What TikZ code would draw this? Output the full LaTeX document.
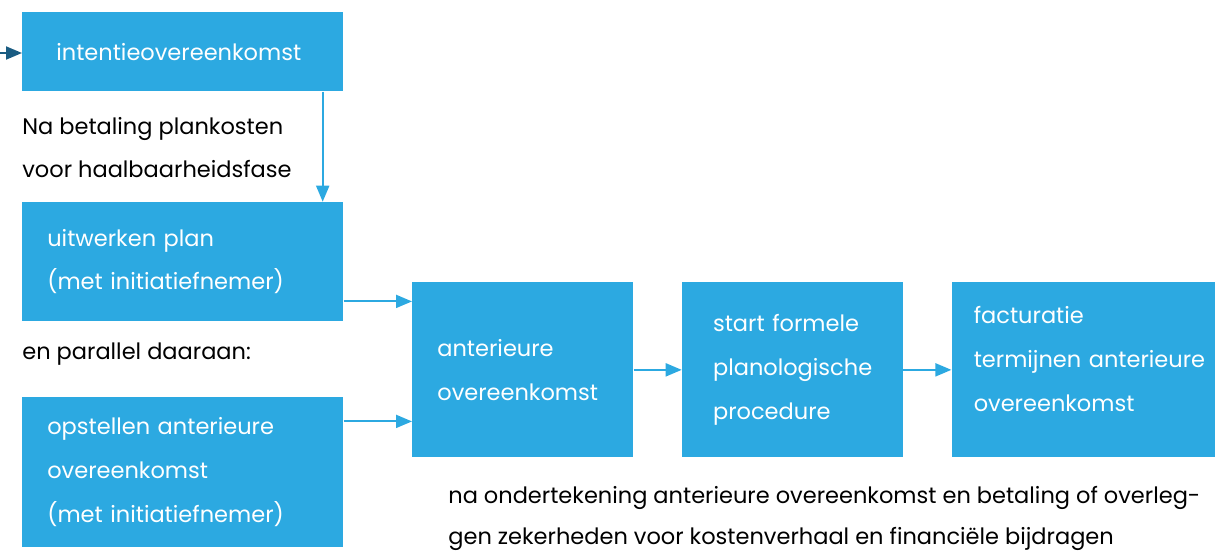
\documentclass[tikz,border=0pt]{standalone}
\usepackage{fontspec}
\setmainfont{Poppins}
\usepackage{xcolor}
\usetikzlibrary{arrows.meta, positioning, calc}
\definecolor{lightblue}{RGB}{44,169,225}
\definecolor{darkblue}{RGB}{26,92,130}

\begin{document}
\begin{tikzpicture}[
        stage/.style={rectangle, fill=lightblue, text=white, minimum width=#1, align=left, anchor=north west, inner xsep=0.5cm, inner ysep=0pt, font=\fontsize{12.8}{25}\selectfont},
        stage/.default=6.42cm,
        note/.style={inner sep=0pt, align=left, anchor=north west, font=\fontsize{12.8}{24.5}\selectfont},
        arrow/.style={-{Triangle[length=3.2mm, width=2.6mm]}, line width=1.1pt, lightblue},
        inarrow/.style={-{Triangle[length=3.2mm, width=2.6mm]}, line width=1.1pt, darkblue}
    ]
    \useasboundingbox (0,0) rectangle (24.3,-11.02);

    % Left column: the three starting boxes
    \node[stage, minimum height=1.58cm, text width=5.06cm, inner xsep=0.68cm] (intent) at (0.44,-0.24) {intentieovereenkomst};
    \node[stage, minimum height=2.38cm, text width=5.42cm, below=2.2cm of intent.south west, anchor=north west] (uitwerk) {uitwerken plan\\(met initiatiefnemer)};
    \node[stage, minimum height=3.0cm, text width=5.42cm, below=1.5cm of uitwerk.south west, anchor=north west] (opstel) {opstellen anterieure\\overeenkomst\\(met initiatiefnemer)};

    % Row 2: anterieure overeenkomst and the steps after it
    \node[stage=4.42cm, minimum height=3.5cm, text width=3.42cm, anchor=north west] (anter) at (8.24,-5.64) {anterieure\\overeenkomst};
    \node[stage=4.42cm, minimum height=3.5cm, text width=3.18cm, right=0.96cm of anter.north east, anchor=north west, inner xsep=0.62cm] (start) {start formele\\planologische\\procedure};
    \node[stage=5.3cm, minimum height=3.5cm, text width=5.0cm, text depth=2.18cm, right=0.96cm of start.north east, anchor=north west, inner xsep=0.44cm] (fact) {facturatie\\termijnen anterieure\\overeenkomst};

    % Notes
    \node[note, below=0.5cm of intent.south west, anchor=north west] (betaling) {Na betaling plankosten\\voor haalbaarheidsfase};
    \node[note, below=0.42cm of uitwerk.south west, anchor=north west] (parallel) {en parallel daaraan:};
    \node[note, below=0.56cm of anter.south west, anchor=north west, xshift=0.72cm, font=\fontsize{12.8}{23.5}\selectfont] (onderteken) {na ondertekening anterieure overeenkomst en betaling of overleg-\\gen zekerheden voor kostenverhaal en financi\"ele bijdragen};

    % Arrows
    \coordinate (instart) at (0,-1.06);
    \draw[inarrow] (instart) -- (instart -| intent.west);
    \draw[arrow] ([xshift=-0.42cm]intent.south east) -- ([xshift=-0.42cm]uitwerk.north east);
    \draw[arrow] ([yshift=0.4cm]uitwerk.south east) -- ([yshift=0.4cm]uitwerk.south east -| anter.west);
    \draw[arrow] ([yshift=-0.5cm]opstel.north east) -- ([yshift=-0.5cm]opstel.north east -| anter.west);
    \draw[arrow] (anter) -- (start);
    \draw[arrow] (start) -- (fact);

\end{tikzpicture}
\end{document}
